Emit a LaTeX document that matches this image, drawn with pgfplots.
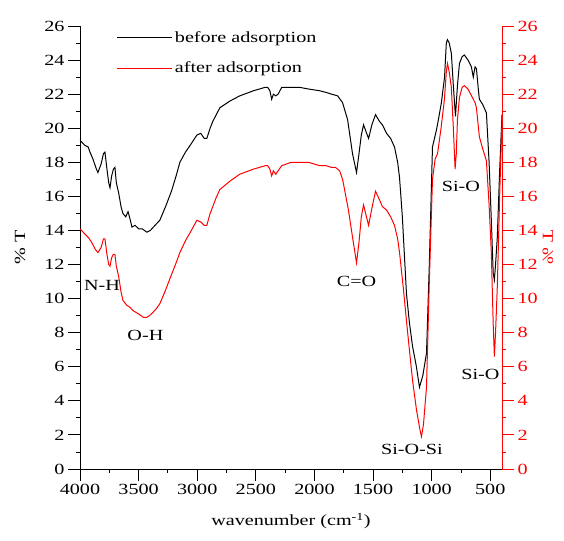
\documentclass[border=0pt]{standalone}
\usepackage{fontspec}
\setmainfont{Liberation Serif}[FakeStretch=1.3]
\usepackage{pgfplots}
\pgfplotsset{compat=1.18}
\newcommand{\chartfont}{\fontsize{15.5bp}{18bp}\selectfont}
\begin{document}
\begin{tikzpicture}
\pgfplotsset{
  myax/.style={
    scale only axis, width=422bp, height=443bp,
    xmin=400, xmax=4000, x dir=reverse,
    ymin=0, ymax=26,
    font=\chartfont,
    ticklabel style={font=\chartfont},
    /pgf/number format/assume math mode=true,
    /pgf/number format/1000 sep={},
    tick align=outside,
    major tick length=12bp, minor tick length=4bp,
    every tick/.style={line width=0.9pt},
    axis line style={line width=0.9pt},
  }
}
\begin{axis}[myax,
  axis x line*=bottom, axis y line*=left,
  xtick={4000,3500,3000,2500,2000,1500,1000,500},
  minor x tick num=1,
  ytick={0,2,...,26}, minor y tick num=1,
  xlabel={wavenumber (cm\textsuperscript{-1})},
  xlabel style={at={(axis description cs:0.5,-0.117)}, anchor=center},
  ylabel={\% T},
  ylabel style={at={(axis description cs:-0.142,0.5)}, anchor=center, rotate=0},
  legend style={draw=none, fill=none, at={(0.08,0.997)}, anchor=north west,
    font=\chartfont, row sep=14bp},
  legend cell align=left,
  legend image code/.code={\draw[#1] (0bp,0bp) -- (55bp,0bp);},
]
\addplot[black, line width=1pt] coordinates {
(4000,19.3) (3960,19.0) (3930,18.9) (3915,18.6) (3890,18.2) (3860,17.6) (3847,17.4) (3820,17.9) (3800,18.5) (3787,18.6) (3770,17.6) (3755,16.8) (3744,16.5) (3730,17.2) (3715,17.6) (3702,17.7) (3690,16.8) (3670,16.2) (3650,15.4) (3634,15.0) (3610,14.8) (3590,15.1) (3574,14.7) (3557,14.2) (3530,14.3) (3500,14.1) (3470,14.1) (3430,13.9) (3400,14.0) (3360,14.3) (3319,14.6) (3270,15.4) (3220,16.3) (3180,17.2) (3148,18.0) (3100,18.6) (3050,19.1) (3003,19.6) (2970,19.7) (2940,19.4) (2918,19.4) (2890,20.0) (2867,20.4) (2807,21.2) (2720,21.6) (2637,21.9) (2520,22.2) (2420,22.4) (2399,22.4) (2380,22.2) (2365,21.7) (2350,22.0) (2330,21.9) (2310,22.0) (2279,22.4) (2200,22.4) (2126,22.4) (2050,22.3) (1956,22.2) (1900,22.1) (1854,22.0) (1802,21.9) (1760,21.5) (1717,20.5) (1675,18.5) (1641,17.4) (1620,18.5) (1600,19.6) (1581,20.2) (1560,19.8) (1538,19.4) (1510,20.2) (1479,20.8) (1445,20.4) (1420,20.2) (1385,19.7) (1350,19.4) (1317,18.9) (1290,18.0) (1274,17.1) (1250,14.8) (1215,10.3) (1190,8.6) (1163,7.2) (1130,6.0) (1104,4.8) (1075,5.5) (1044,6.8) (1020,12.0) (993,18.9) (959,19.9) (940,20.6) (917,21.5) (890,23.0) (875,25.0) (865,25.2) (850,25.0) (832,24.4) (815,22.5) (797,20.7) (780,22.5) (763,23.8) (740,24.2) (721,24.3) (690,24.0) (661,23.6) (645,23.0) (630,23.6) (618,23.5) (605,22.5) (593,21.7) (565,21.4) (533,20.9) (510,18.0) (491,14.6) (475,11.5) (465,11.1) (455,12.0) (440,13.6) (420,17.5) (400,20.8)
};
\addlegendentry{before adsorption}
\addplot[red, line width=1pt] coordinates {
(4000,14.1) (3960,13.8) (3930,13.6) (3900,13.3) (3870,12.9) (3847,12.7) (3820,13.0) (3800,13.5) (3787,13.5) (3770,12.6) (3755,12.0) (3744,11.9) (3730,12.4) (3715,12.6) (3702,12.6) (3690,11.9) (3670,11.3) (3650,10.4) (3634,9.9) (3600,9.6) (3575,9.5) (3549,9.3) (3500,9.1) (3460,8.9) (3429,8.9) (3390,9.1) (3350,9.4) (3319,9.7) (3270,10.5) (3220,11.4) (3180,12.1) (3148,12.7) (3100,13.4) (3050,14.0) (3003,14.6) (2970,14.5) (2940,14.3) (2918,14.3) (2890,15.0) (2867,15.4) (2840,15.9) (2807,16.4) (2720,16.9) (2637,17.3) (2520,17.6) (2420,17.8) (2399,17.8) (2380,17.6) (2365,17.2) (2350,17.5) (2330,17.3) (2310,17.5) (2279,17.8) (2200,18.0) (2126,18.0) (2050,18.0) (1956,17.8) (1900,17.8) (1854,17.7) (1820,17.7) (1785,17.5) (1760,17.0) (1743,16.4) (1710,15.2) (1675,13.6) (1641,12.1) (1620,13.3) (1600,14.8) (1581,15.5) (1560,14.9) (1538,14.3) (1510,15.3) (1479,16.3) (1445,15.8) (1420,15.4) (1385,15.2) (1350,14.8) (1317,14.3) (1290,13.5) (1274,12.7) (1240,10.5) (1215,8.7) (1190,7.0) (1163,5.2) (1130,3.5) (1100,2.3) (1087,1.9) (1070,2.6) (1044,4.8) (1020,11.0) (993,17.0) (970,18.2) (950,18.5) (920,20.0) (891,21.7) (875,23.3) (865,23.8) (850,23.3) (832,22.4) (815,20.0) (800,17.6) (790,18.5) (780,20.5) (763,21.8) (740,22.4) (721,22.5) (690,22.3) (652,21.8) (630,21.5) (618,21.2) (605,20.3) (593,19.5) (565,18.8) (533,18.1) (510,15.5) (491,12.7) (475,8.5) (465,6.6) (455,8.0) (440,10.7) (420,16.0) (400,20.5)
};
\addlegendentry{after adsorption}
\node at (axis cs:3813,10.8) {N-H};
\node at (axis cs:3442,7.86) {O-H};
\node at (axis cs:1641,11.0) {C=O};
\node at (axis cs:1168,1.14) {Si-O-Si};
\node at (axis cs:750,16.6) {Si-O};
\node at (axis cs:584,5.55) {Si-O};
\end{axis}
\begin{axis}[myax,
  axis x line=none, axis y line*=right,
  ytick={0,2,...,26}, minor y tick num=1,
  axis line style={red, line width=0.9pt},
  every tick/.style={red, line width=0.9pt},
  yticklabel style={red},
  ylabel={\% T},
  ylabel style={red, at={(axis description cs:1.109,0.5)}, anchor=center, rotate=0, yscale=-1},
]
\addplot[draw=none] coordinates {(1000,10)};
\end{axis}
\pgfresetboundingbox
\path (-80bp,-72bp) rectangle (484bp,469bp);
\end{tikzpicture}
\end{document}
